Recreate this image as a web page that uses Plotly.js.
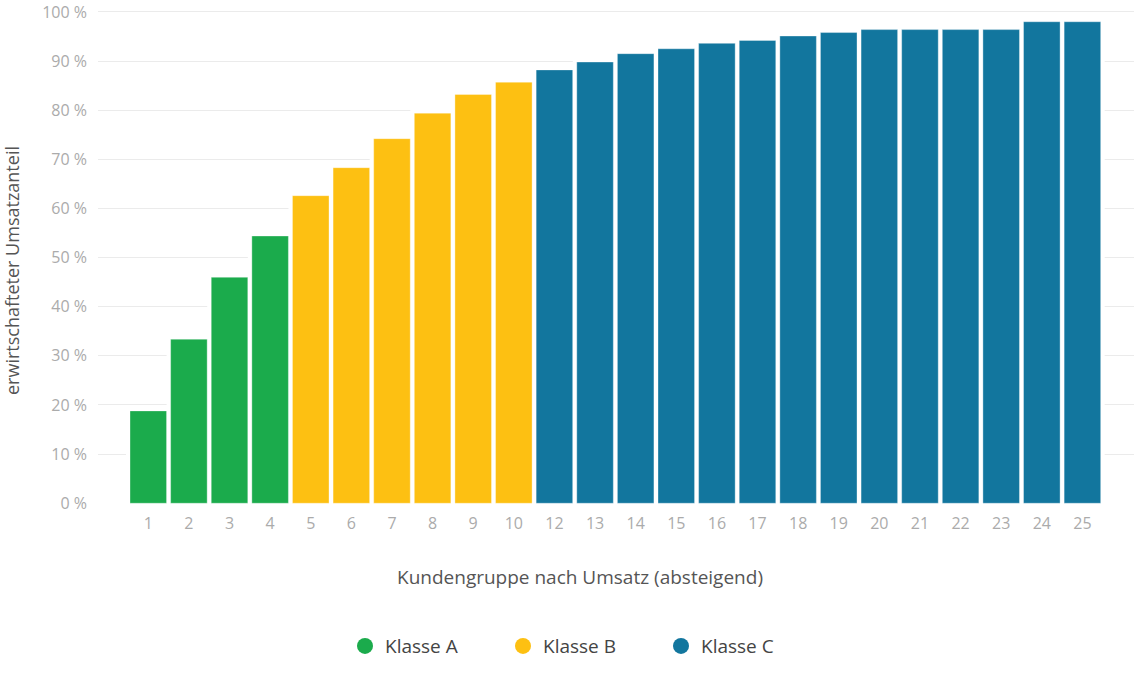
<!DOCTYPE html>
<html>
<head>
<meta charset="utf-8">
<script src="https://cdn.plot.ly/plotly-3.0.1.min.js"></script>
<style>html,body{margin:0;padding:0;background:#fff;}#chart{width:1134px;height:683px;}</style>
</head>
<body>
<div id="chart"></div>
<script>
// Data
const categoriesA = ['1','2','3','4'];
const valuesA = [18.8, 33.4, 46.0, 54.4];
const categoriesB = ['5','6','7','8','9','10'];
const valuesB = [62.6, 68.3, 74.2, 79.4, 83.2, 85.7];
const categoriesC = ['12','13','14','15','16','17','18','19','20','21','22','23','24','25'];
const valuesC = [88.2, 89.8, 91.5, 92.5, 93.6, 94.2, 95.1, 95.8, 96.4, 96.4, 96.4, 96.4, 98.0, 98.0];
const seriesNames = ['Klasse A', 'Klasse B', 'Klasse C'];
const yTicks = [0,10,20,30,40,50,60,70,80,90,100];
const yTickText = yTicks.map(v => v + ' %');

const colors = ['#1bab4c', '#fdc012', '#12769e'];
const allCats = categoriesA.concat(categoriesB, categoriesC);
const groups = [[categoriesA, valuesA], [categoriesB, valuesB], [categoriesC, valuesC]];

const traces = [];
// white halo behind bars (hides gridlines around bars)
groups.forEach(([cats, vals]) => {
  traces.push({
    type: 'bar', x: cats, y: vals, width: 0.9,
    marker: {color: '#ffffff', line: {color: '#ffffff', width: 8}},
    showlegend: false, hoverinfo: 'skip'
  });
});
groups.forEach(([cats, vals], i) => {
  traces.push({
    type: 'bar', x: cats, y: vals, width: 0.9, name: seriesNames[i],
    marker: {color: colors[i], line: {color: 'rgba(255,255,255,0.35)', width: 1}},
    showlegend: false
  });
});
// legend entries with round symbols
seriesNames.forEach((n, i) => {
  traces.push({
    type: 'scatter', mode: 'markers', x: [null], y: [null], name: n,
    marker: {color: colors[i], size: 17, symbol: 'circle'},
    showlegend: true, hoverinfo: 'skip'
  });
});

const layout = {
  width: 1134, height: 683,
  margin: {l: 98, r: 0, t: 7, b: 179},
  paper_bgcolor: '#ffffff', plot_bgcolor: '#ffffff',
  barmode: 'overlay',
  font: {family: '"Open Sans", "Noto Sans", sans-serif', color: '#555555'},
  xaxis: {
    type: 'category', categoryorder: 'array', categoryarray: allCats,
    range: [-1.238, 24.27], showgrid: false, zeroline: false, showline: false,
    ticks: '', tickfont: {size: 16, color: '#ababab'}, ticklabelstandoff: 8
  },
  yaxis: {
    range: [-0.15, 101], tickmode: 'array', tickvals: yTicks, ticktext: yTickText,
    showgrid: true, gridcolor: '#ebebeb', gridwidth: 1,
    zeroline: false, showline: false, ticks: '',
    tickfont: {size: 16, color: '#ababab'}, ticklabelstandoff: 10
  },
  showlegend: true,
  legend: {
    orientation: 'h', xref: 'container', yref: 'container',
    x: 345/1134, xanchor: 'left', y: 0.054, yanchor: 'middle',
    font: {size: 19, color: '#444444'}, entrywidth: 113, entrywidthmode: 'pixels',
    itemsizing: 'trace'
  },
  annotations: [
    {text: 'Kundengruppe nach Umsatz (absteigend)', xref: 'paper', yref: 'paper',
     x: (580-98)/1036, y: -(577-504)/497, xanchor: 'center', yanchor: 'middle',
     showarrow: false, font: {size: 19, color: '#555555'}},
    {text: 'erwirtschafteter Umsatzanteil', xref: 'paper', yref: 'paper',
     x: (12-98)/1036, y: (504-271)/497, xanchor: 'center', yanchor: 'middle',
     textangle: -90, showarrow: false, font: {size: 18, color: '#555555'}}
  ]
};

Plotly.newPlot('chart', traces, layout, {displayModeBar: false, staticPlot: true});
</script>
</body>
</html>
